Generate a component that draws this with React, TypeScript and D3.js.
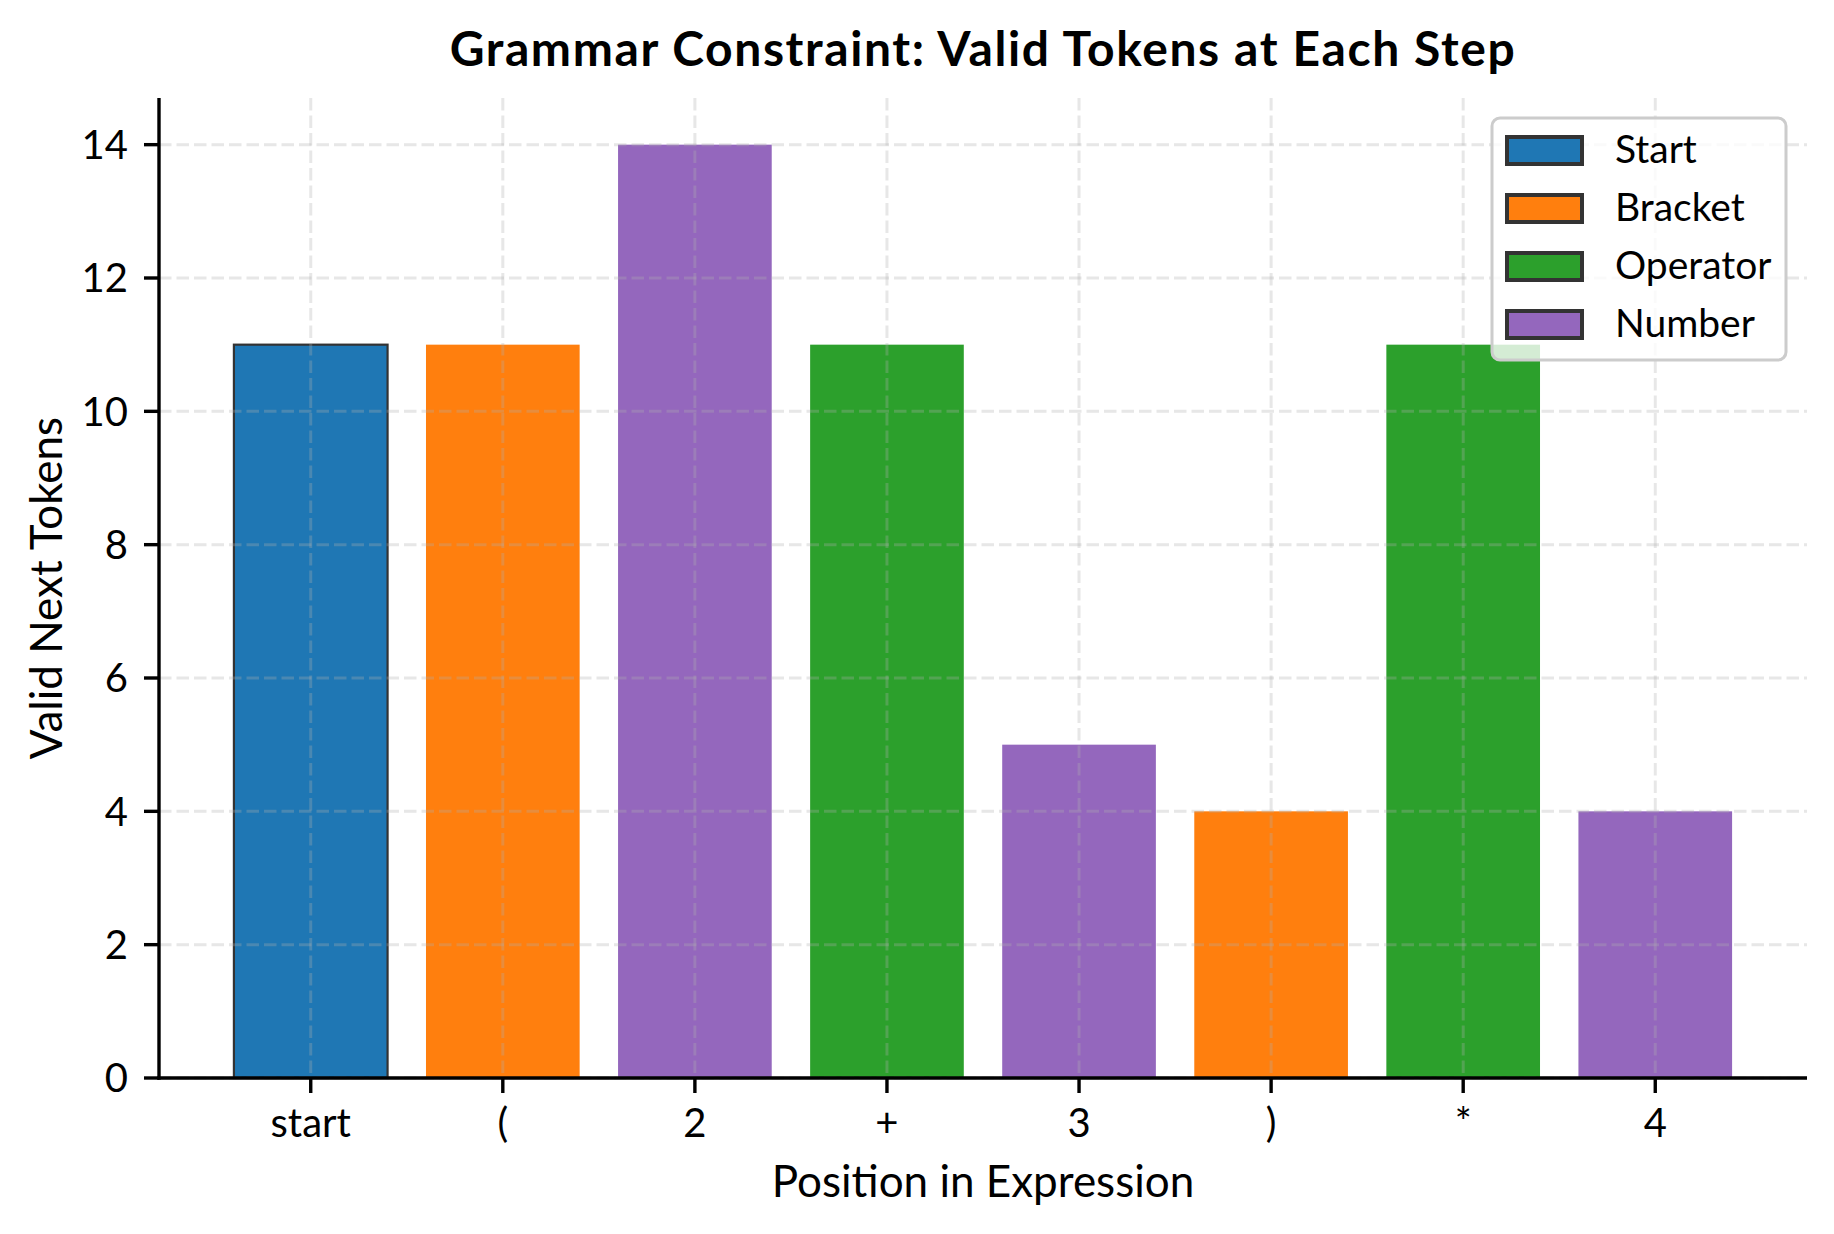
import React from "react";
import * as d3 from "d3";

const positions = ["start", "(", "2", "+", "3", ")", "*", "4"];
const validCounts = [11, 11, 14, 11, 5, 4, 11, 4];
const tokenTypes = ["Start", "Bracket", "Number", "Operator", "Number", "Bracket", "Operator", "Number"];
const legendTypes = ["Start", "Bracket", "Operator", "Number"];
const typeColors = ["#1f77b4", "#ff7f0e", "#2ca02c", "#9467bd"];
const yTicks = [0, 2, 4, 6, 8, 10, 12, 14];

const W = 1834;
const H = 1234;
const M = { left: 159, right: 1807, top: 98, bottom: 1078 };
const FONT = "Lato, 'Noto Sans', sans-serif";

export default function App() {
  const x = d3.scaleLinear().domain([-0.79, 7.79]).range([M.left, M.right]);
  const y = d3.scaleLinear().domain([0, 14.7]).range([M.bottom, M.top]);
  const color = d3.scaleOrdinal<string, string>().domain(legendTypes).range(typeColors);
  const barW = x(0.8) - x(0);
  const grid = { stroke: "#b0b0b0", strokeOpacity: 0.3, strokeWidth: 3, strokeDasharray: "12.5 5" };

  const legX = 1492, legY = 118, legW = 294, legH = 242;

  return (
    <svg width={W} height={H} style={{ position: "absolute", left: 0, top: 0, background: "#fff" }} fontFamily={FONT}>
      <rect x={0} y={0} width={W} height={H} fill="#fff" />
      {/* bars */}
      {validCounts.map((v, i) => (
        <rect
          key={"b" + i}
          x={x(i) - barW / 2}
          y={y(v)}
          width={barW}
          height={y(0) - y(v)}
          fill={color(tokenTypes[i])}
          stroke={i === 0 ? "#333" : "none"}
          strokeWidth={i === 0 ? 2.2 : 0}
        />
      ))}
      {/* grid on top */}
      {yTicks.map((t) => (
        <line key={"gy" + t} x1={M.left} x2={M.right} y1={y(t)} y2={y(t)} {...grid} />
      ))}
      {positions.map((p, i) => (
        <line key={"gx" + i} x1={x(i)} x2={x(i)} y1={M.top} y2={M.bottom} {...grid} />
      ))}
      {/* axes */}
      <line x1={M.left} x2={M.left} y1={M.top} y2={M.bottom + 1.7} stroke="#000" strokeWidth={3.4} />
      <line x1={M.left - 1.7} x2={M.right} y1={M.bottom} y2={M.bottom} stroke="#000" strokeWidth={3.4} />
      {yTicks.map((t) => (
        <g key={"yt" + t}>
          <line x1={M.left - 15} x2={M.left} y1={y(t)} y2={y(t)} stroke="#000" strokeWidth={3.4} />
          <text x={M.left - 31} y={y(t)} dy="0.36em" textAnchor="end" fontSize={40}>
            {t}
          </text>
        </g>
      ))}
      {positions.map((p, i) => (
        <g key={"xt" + i}>
          <line x1={x(i)} x2={x(i)} y1={M.bottom} y2={M.bottom + 15} stroke="#000" strokeWidth={3.4} />
          <text x={x(i)} y={1137} textAnchor="middle" fontSize={40}>
            {p}
          </text>
        </g>
      ))}
      {/* labels */}
      <text x={(M.left + M.right) / 2} y={1197} textAnchor="middle" fontSize={44}>
        Position in Expression
      </text>
      <text transform={`translate(62, ${(M.top + M.bottom) / 2}) rotate(-90)`} textAnchor="middle" fontSize={44}>
        Valid Next Tokens
      </text>
      <text x={(M.left + M.right) / 2} y={66} textAnchor="middle" fontSize={48} fontWeight="bold" letterSpacing={1.6}>
        Grammar Constraint: Valid Tokens at Each Step
      </text>
      {/* legend */}
      <rect x={legX} y={legY} width={legW} height={legH} rx={8} ry={8} fill="#fff" fillOpacity={0.8} stroke="#cccccc" strokeWidth={3} />
      {legendTypes.map((t, i) => (
        <g key={"lg" + t}>
          <rect x={1507} y={137 + i * 58} width={75} height={27} fill={color(t)} stroke="#333" strokeWidth={4} />
          <text x={1615} y={163 + i * 58} fontSize={39}>
            {t}
          </text>
        </g>
      ))}
    </svg>
  );
}
